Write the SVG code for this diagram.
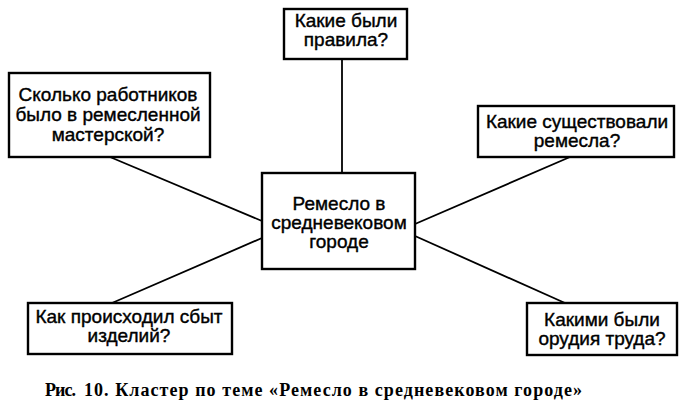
<svg xmlns="http://www.w3.org/2000/svg" width="686" height="407" viewBox="0 0 686 407">
<style>
.box{fill:#fff;stroke:#000;stroke-width:2.4}
.t{font-family:"Liberation Sans",Arial,sans-serif;font-size:19px;fill:#000;stroke:#000;stroke-width:0.4;text-anchor:middle}
.c{stroke:#000;stroke-width:1.8;fill:none}
.cap{font-family:"Liberation Serif","Times New Roman",serif;font-size:18px;font-weight:bold;fill:#000}
</style>
<rect width="686" height="407" fill="#fff"/>
<g id="connectors">
<line class="c" x1="342" y1="59" x2="342" y2="173"/>
<line class="c" x1="110" y1="157" x2="262" y2="221"/>
<line class="c" x1="112" y1="303" x2="262" y2="238"/>
<line class="c" x1="570" y1="157" x2="415" y2="224"/>
<line class="c" x1="565" y1="303" x2="415" y2="236"/>
</g>
<g id="center">
<rect class="box" x="262" y="173" width="153" height="96"/>
<text class="t" x="339" y="210">Ремесло в</text>
<text class="t" x="339" y="229">средневековом</text>
<text class="t" x="339" y="248">городе</text>
</g>
<g id="top">
<rect class="box" x="284" y="9" width="123" height="50"/>
<text class="t" x="346" y="27">Какие были</text>
<text class="t" x="346" y="46">правила?</text>
</g>
<g id="topleft">
<rect class="box" x="9" y="73" width="201" height="84"/>
<text class="t" x="108" y="101">Сколько работников</text>
<text class="t" x="108" y="121">было в ремесленной</text>
<text class="t" x="108" y="141">мастерской?</text>
</g>
<g id="topright">
<rect class="box" x="478" y="106" width="196" height="51"/>
<text class="t" x="577" y="128">Какие существовали</text>
<text class="t" x="577" y="147">ремесла?</text>
</g>
<g id="bottomleft">
<rect class="box" x="28" y="303" width="204" height="51"/>
<text class="t" x="129" y="323">Как происходил сбыт</text>
<text class="t" x="129" y="342">изделий?</text>
</g>
<g id="bottomright">
<rect class="box" x="527" y="303" width="150" height="52"/>
<text class="t" x="602" y="326">Какими были</text>
<text class="t" x="602" y="345">орудия труда?</text>
</g>
<g id="caption">
<text class="cap" x="45" y="396" textLength="31" lengthAdjust="spacing">Рис.</text>
<text class="cap" x="84" y="396" textLength="498" lengthAdjust="spacing">10. Кластер по теме «Ремесло в средневековом городе»</text>
</g>
</svg>
